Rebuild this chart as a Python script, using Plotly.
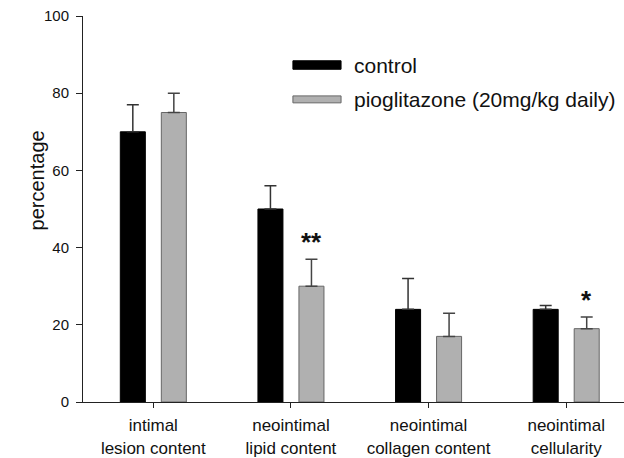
import plotly.graph_objects as go

categories = ["intimal<br>lesion content", "neointimal<br>lipid content",
              "neointimal<br>collagen content", "neointimal<br>cellularity"]
control = [70, 50, 24, 24]
control_err = [7, 6, 8, 1]
pio = [75, 30, 17, 19]
pio_err = [5, 7, 6, 3]
significance = ["", "**", "", "*"]
series_names = ["control", "pioglitazone (20mg/kg daily)"]
y_ticks = [0, 20, 40, 60, 80, 100]

FONT = "Liberation Sans, Arial, sans-serif"
idx = list(range(len(categories)))

fig = go.Figure()
fig.add_trace(go.Bar(
    x=idx, y=control, name=series_names[0],
    marker=dict(color="#000000", line=dict(color="#000000", width=1)),
    error_y=dict(type="data", array=control_err, arrayminus=[0]*4, symmetric=False,
                 color="#333333", thickness=1.5, width=6),
    showlegend=False))
fig.add_trace(go.Bar(
    x=idx, y=pio, name=series_names[1],
    marker=dict(color="#b0b0b0", line=dict(color="#666666", width=1)),
    error_y=dict(type="data", array=pio_err, arrayminus=[0]*4, symmetric=False,
                 color="#444444", thickness=1.5, width=6),
    showlegend=False))

# significance markers above pioglitazone bars
group_spacing_px = 137.6
offset = 20.5 / group_spacing_px
for i, s in enumerate(significance):
    if s:
        fig.add_annotation(x=i + offset, y=pio[i] + pio_err[i], xref="x", yref="y",
                           text="<b>%s</b>" % s, showarrow=False, yanchor="bottom",
                           yshift=0, font=dict(family=FONT, size=26, color="#111"))

# custom legend
fig.add_shape(type="rect", xref="paper", yref="paper", x0=0.388, x1=0.477,
              y0=0.862, y1=0.884, fillcolor="#000000", line=dict(color="#000", width=1))
fig.add_shape(type="rect", xref="paper", yref="paper", x0=0.388, x1=0.477,
              y0=0.775, y1=0.793, fillcolor="#b0b0b0", line=dict(color="#666", width=1))
fig.add_annotation(x=0.497, y=0.872, xref="paper", yref="paper", text=series_names[0],
                   showarrow=False, xanchor="left", yanchor="middle",
                   font=dict(family=FONT, size=21, color="#111"))
fig.add_annotation(x=0.497, y=0.784, xref="paper", yref="paper", text=series_names[1],
                   showarrow=False, xanchor="left", yanchor="middle",
                   font=dict(family=FONT, size=21, color="#111"))

# y title
fig.add_annotation(x=(24 - 83) / 541, y=57.4, xref="paper", yref="y", text="percentage",
                   showarrow=False, textangle=-90,
                   font=dict(family=FONT, size=20, color="#111"))

fig.update_layout(
    width=624, height=458,
    margin=dict(l=83, r=0, t=16, b=56, autoexpand=False),
    paper_bgcolor="white", plot_bgcolor="white",
    barmode="group", bargap=0.404, bargroupgap=0.39,
    font=dict(family=FONT, color="#111"),
    xaxis=dict(range=[-0.511, 3.42], tickvals=idx, ticktext=categories,
               showline=True, linecolor="#222", linewidth=1,
               ticks="outside", ticklen=5, tickcolor="#222",
               ticklabelstandoff=3, automargin=False,
               tickfont=dict(family=FONT, size=17, color="#111"),
               showgrid=False, zeroline=False),
    yaxis=dict(range=[0, 100], tickvals=y_ticks, showline=True, linecolor="#222",
               linewidth=1, ticks="outside", ticklen=6, tickcolor="#222",
               ticklabelstandoff=4, automargin=False,
               tickfont=dict(family=FONT, size=15, color="#111"),
               showgrid=False, zeroline=False),
)

fig.write_html("out.html", config={"displayModeBar": False},
               post_script="document.body.style.margin='0';")
